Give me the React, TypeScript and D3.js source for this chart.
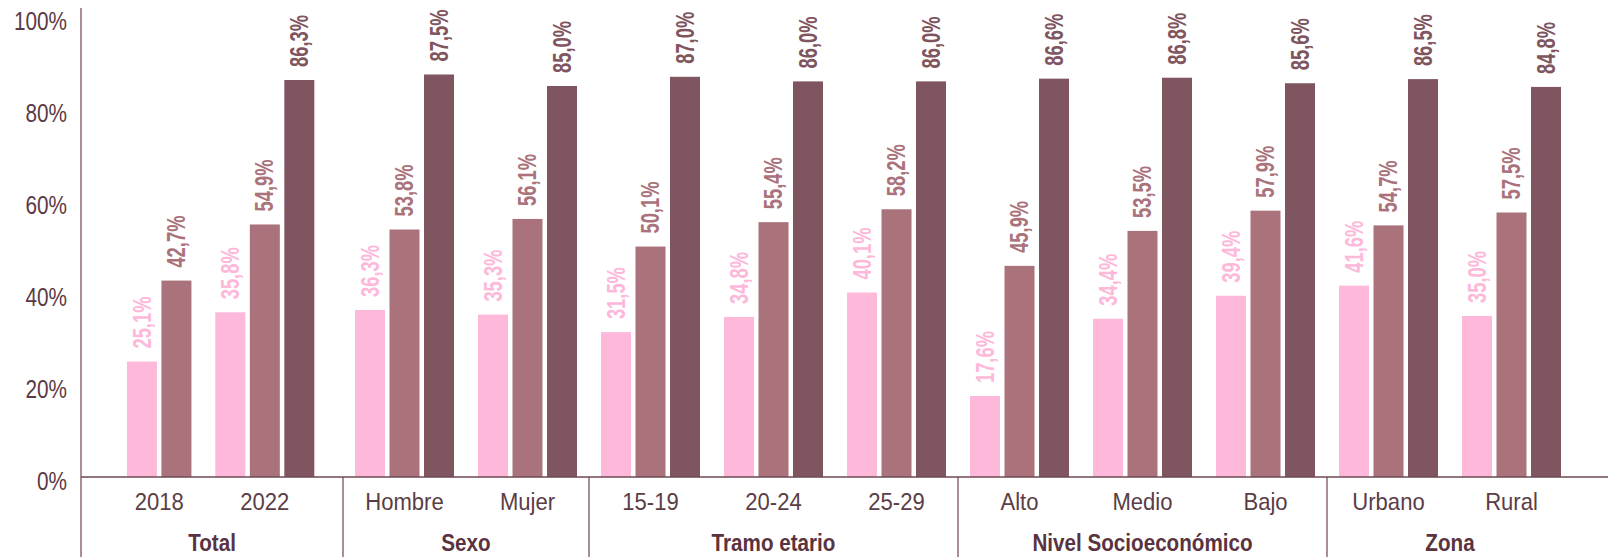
import React from "react";
import * as d3 from "d3";

const categories = ["2018", "2022", "Hombre", "Mujer", "15-19", "20-24", "25-29", "Alto", "Medio", "Bajo", "Urbano", "Rural"];
const groupNames = ["Total", "Sexo", "Tramo etario", "Nivel Socioeconómico", "Zona"];
const groupSizes = [2, 2, 3, 3, 2];
const seriesKeys = ["s1", "s2", "s3"];
const seriesA: (number | null)[] = [25.1, 35.8, 36.3, 35.3, 31.5, 34.8, 40.1, 17.6, 34.4, 39.4, 41.6, 35.0];
const seriesB: (number | null)[] = [42.7, 54.9, 53.8, 56.1, 50.1, 55.4, 58.2, 45.9, 53.5, 57.9, 54.7, 57.5];
const seriesC: (number | null)[] = [null, 86.3, 87.5, 85.0, 87.0, 86.0, 86.0, 86.6, 86.8, 85.6, 86.5, 84.8];
const yTicks = [0, 20, 40, 60, 80, 100];

const W = 1608;
const H = 557;
const colors = ["#FDB8DA", "#AA737B", "#7F5560"];
const FONT = "'Liberation Sans', Arial, sans-serif";
const axisX = 81;
const groupPadding = [0.74, 0.5, 0.5, 0.5, 0.5];

export default function App() {
  const y = d3.scaleLinear().domain([0, 100]).range([477, 17]);
  const unit = d3.scaleLinear().domain([0, 12]).range([97, 1573]);

  const values = [seriesA, seriesB, seriesC];

  const starts: number[] = [];
  let acc = 0;
  groupSizes.forEach((s) => {
    starts.push(acc);
    acc += s;
  });

  const catCenters: number[] = [];
  const groupRanges: [number, number][] = [];
  let ci = 0;
  groupSizes.forEach((s, g) => {
    const x0 = g === 0 ? axisX : unit(starts[g]);
    const x1 = unit(starts[g] + s);
    groupRanges.push([x0, x1]);
    const cats = categories.slice(ci, ci + s);
    const ps = d3.scalePoint<string>().domain(cats).range([x0, x1]).padding(groupPadding[g]);
    cats.forEach((c) => catCenters.push(ps(c) as number));
    ci += s;
  });

  const barStep = 34.5;
  const barGap = 4.5;

  const bars: React.ReactNode[] = [];
  const labels: React.ReactNode[] = [];
  categories.forEach((c, i) => {
    const present = seriesKeys.filter((_, k) => values[k][i] != null);
    const w = present.length * barStep - barGap;
    const inner = d3
      .scaleBand<string>()
      .domain(present)
      .range([catCenters[i] - w / 2, catCenters[i] + w / 2])
      .paddingInner(barGap / barStep);
    present.forEach((key) => {
      const k = seriesKeys.indexOf(key);
      const v = values[k][i] as number;
      const bx = inner(key) as number;
      const bw = inner.bandwidth();
      bars.push(
        <rect key={`b-${i}-${k}`} x={bx} y={y(v)} width={bw} height={y(0) - y(v)} fill={colors[k]} />
      );
      const cx = bx + bw / 2;
      labels.push(
        <text
          key={`l-${i}-${k}`}
          transform={`translate(${cx},${y(v) - 13}) rotate(-90) scale(0.72,1)`}
          textAnchor="start"
          dominantBaseline="central"
          fontFamily={FONT}
          fontWeight="bold"
          fontSize={25.5}
          fill={colors[k]}
        >
          {v.toFixed(1).replace(".", ",") + "%"}
        </text>
      );
    });
  });

  return (
    <svg
      width={W}
      height={H}
      style={{ position: "absolute", left: 0, top: 0, display: "block", background: "#fff" }}
    >
      {yTicks.map((t) => (
        <text
          key={`t-${t}`}
          transform={`translate(67,${y(t) + 4}) scale(0.83,1)`}
          textAnchor="end"
          dominantBaseline="central"
          fontFamily={FONT}
          fontSize={25}
          fill="#5C3A44"
        >
          {t + "%"}
        </text>
      ))}
      {bars}
      {labels}
      <line x1={axisX} x2={axisX} y1={8} y2={H} stroke="#8C6A70" strokeWidth={1.5} />
      {groupRanges.slice(1).map((r, g) => (
        <line key={`s-${g}`} x1={r[0]} x2={r[0]} y1={y(0)} y2={H} stroke="#8C6A70" strokeWidth={1.5} />
      ))}
      <line x1={axisX} x2={W} y1={y(0)} y2={y(0)} stroke="#6D4A52" strokeWidth={1.5} />
      {categories.map((c, i) => (
        <text
          key={`c-${i}`}
          transform={`translate(${catCenters[i]},510) scale(0.92,1)`}
          textAnchor="middle"
          fontFamily={FONT}
          fontSize={24}
          fill="#5A3D45"
        >
          {c}
        </text>
      ))}
      {groupNames.map((gname, g) => {
        const mid = (groupRanges[g][0] + groupRanges[g][1]) / 2;
        return (
          <text
            key={`g-${g}`}
            transform={`translate(${mid},551) scale(0.86,1)`}
            textAnchor="middle"
            fontFamily={FONT}
            fontWeight="bold"
            fontSize={24}
            fill="#5A3340"
          >
            {gname}
          </text>
        );
      })}
    </svg>
  );
}
